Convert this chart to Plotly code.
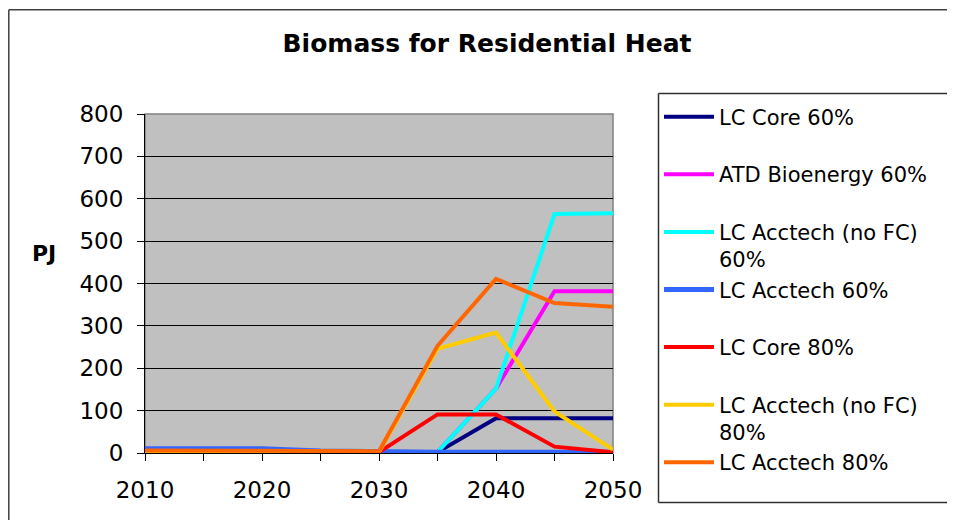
import plotly.graph_objects as go

# PJ of biomass used for residential heat, per scenario
years = [2010, 2015, 2020, 2025, 2030, 2035, 2040, 2045, 2050]
year_labels = ["2010", "", "2020", "", "2030", "", "2040", "", "2050"]

lc_core_60 = [5, 5, 5, 3, 2, 2, 82, 82, 82]
atd_bioenergy_60 = [5, 5, 5, 3, 2, 2, 152, 382, 382]
lc_acctech_nofc_60 = [5, 5, 5, 3, 2, 2, 152, 564, 566]
lc_acctech_60 = [10, 10, 10, 5, 3, 2, 2, 2, 2]
lc_core_80 = [5, 5, 5, 3, 2, 91, 91, 15, 2]
lc_acctech_nofc_80 = [5, 5, 5, 3, 2, 246, 284, 98, 8]
lc_acctech_80 = [6, 6, 6, 4, 4, 253, 411, 354, 345]

series = [
    ("LC Core 60%<br> ", lc_core_60, "#000080", 4),
    ("ATD Bioenergy 60%<br> ", atd_bioenergy_60, "#FF00FF", 4),
    ("LC Acctech (no FC)<br>60%", lc_acctech_nofc_60, "#00FFFF", 4),
    ("LC Acctech 60%<br> ", lc_acctech_60, "#3366FF", 5),
    ("LC Core 80%<br> ", lc_core_80, "#FF0000", 4),
    ("LC Acctech (no FC)<br>80%", lc_acctech_nofc_80, "#FFCC00", 4),
    ("LC Acctech 80%<br> ", lc_acctech_80, "#FF6600", 4),
]

FONT = "DejaVu Sans"
# the page puts the figure 8px in from the window edge
W, H = 947, 512
L, T = 137, 106
PW, PH = 468, 339.5


def px_x(x):
    return (x - L) / PW


def px_y(y):
    return (T + PH - y) / PH


def frame_line(x0, y0, x1, y1, color):
    fig.add_shape(type="line", xref="paper", yref="paper",
                  x0=px_x(x0), y0=px_y(y0), x1=px_x(x1), y1=px_y(y1),
                  line=dict(color=color, width=1.5))


fig = go.Figure()
for name, vals, color, width in series:
    fig.add_scatter(x=years, y=vals, name=name, mode="lines",
                    line=dict(color=color, width=width))

fig.update_xaxes(
    range=[2010, 2050], tickvals=years, ticktext=year_labels,
    ticks="outside", ticklen=7, tickcolor="black", ticklabelstandoff=9,
    showline=True, linecolor="black", linewidth=1,
    showgrid=False, zeroline=False,
    tickfont=dict(family=FONT, size=23, color="black"),
)
fig.update_yaxes(
    range=[0, 800], dtick=100,
    ticks="outside", ticklen=7, tickcolor="black", ticklabelstandoff=9,
    showline=True, linecolor="black", linewidth=1,
    showgrid=True, gridcolor="black", gridwidth=1, zeroline=False,
    tickfont=dict(family=FONT, size=23, color="black"),
)

# gray border on the top and right of the plot area
fig.add_shape(type="rect", xref="paper", yref="paper", x0=0, y0=0, x1=1, y1=1,
              line=dict(color="#808080", width=1.5), layer="below")
# outer chart frame (only top and left edges are on screen)
frame_line(0.8, 1.5, W + 20, 1.5, "#404040")
frame_line(0.8, 1.5, 0.8, H + 20, "#404040")
# legend frame, runs off the right edge like the original
frame_line(650.5, 85.5, W + 20, 85.5, "#303030")
frame_line(650.5, 85.5, 650.5, 495, "#303030")
frame_line(650.5, 495, W + 20, 495, "#303030")

fig.add_annotation(text="<b>PJ</b>", xref="paper", yref="paper",
                   x=px_x(36), y=px_y(246), xanchor="center", yanchor="middle",
                   showarrow=False, font=dict(family=FONT, size=22, color="black"))

fig.update_layout(
    width=W, height=H,
    margin=dict(l=L, r=W - L - PW, t=T, b=H - T - PH, autoexpand=False),
    paper_bgcolor="white", plot_bgcolor="#C0C0C0",
    title=dict(text="<b>Biomass for Residential Heat</b>", x=479 / W, xanchor="center",
               y=1 - 35 / H, yanchor="middle",
               font=dict(family=FONT, size=25, color="black")),
    legend=dict(x=px_x(651), y=px_y(88.5), xanchor="left", yanchor="top",
                maxheight=440,
                bgcolor="rgba(0,0,0,0)", borderwidth=0,
                valign="top", itemwidth=50,
                font=dict(family=FONT, size=21, color="black")),
    showlegend=True,
)

fig.write_html("out.html")
